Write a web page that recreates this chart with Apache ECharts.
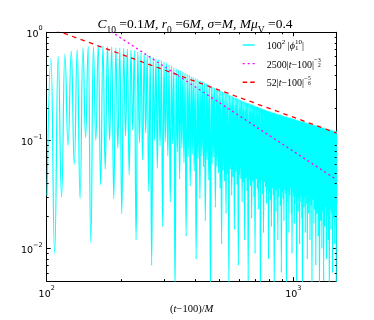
<!DOCTYPE html>
<html>
<head>
<meta charset="utf-8">
<script src="https://cdn.jsdelivr.net/npm/echarts@6/dist/echarts.min.js"></script>
<style>
html, body { margin: 0; padding: 0; background: #fff; }
#chart { width: 374px; height: 320px; }
</style>
</head>
<body>
<div id="chart"></div>
<script>
// 100^2 |phi| : maxima and minima (x = t-100)
var peakT = [104.1,111.3,118.5,125.8,133.0,140.2,147.4,154.6,161.9,169.1,
  176.3,183.5,190.7,198.0,205.2,212.4,219.6,226.8,234.1,241.3,
  248.5,255.7,262.9,270.2,277.4,284.6,291.8,299.0,306.3,313.5,
  320.7,327.9,335.1,342.4,349.6,356.8,364.0,371.2,378.5,385.7,
  392.9,400.1,407.3,414.6,421.8,429.0,436.2,443.4,450.7,457.9,
  465.1,472.3,479.5,486.8,494.0,501.2,508.4,515.6,522.9,530.1,
  537.3,544.5,551.7,559.0,566.2,573.4,580.6,587.8,595.1,602.3,
  609.5,616.7,623.9,631.2,638.4,645.6,652.8,660.0,667.3,674.5,
  681.7,688.9,696.1,703.4,710.6,717.8,725.0,732.2,739.5,746.7,
  753.9,761.1,768.3,775.6,782.8,790.0,797.2,804.4,811.7,818.9,
  826.1,833.3,840.5,847.8,855.0,862.2,869.4,876.6,883.9,891.1,
  898.3,905.5,912.7,920.0,927.2,934.4,941.6,948.8,956.1,963.3,
  970.5,977.7,984.9,992.2,999.4,1006.6,1013.8,1021.0,1028.3,1035.5,
  1042.7,1049.9,1057.1,1064.4,1071.6,1078.8,1086.0,1093.2,1100.5,1107.7,
  1114.9,1122.1,1129.3,1136.6,1143.8,1151.0,1158.2,1165.4,1172.7,1179.9,
  1187.1,1194.3,1201.5,1208.8,1216.0,1223.2,1230.4,1237.6,1244.9,1252.1,
  1259.3,1266.5,1273.7,1281.0,1288.2,1295.4,1302.6,1309.8,1317.1,1324.3,
  1331.5,1338.7,1345.9,1353.2,1360.4,1367.6,1374.8,1382.0,1389.3,1396.5,
  1403.7,1410.9,1418.1,1425.4,1432.6,1439.8,1447.0,1454.2,1461.5,1468.7,
  1475.9,1483.1,1490.3,1497.6];
var peakV = [0.57,0.60,0.63,0.67,0.69,0.72,0.74,0.74,0.75,0.75,
  0.74,0.73,0.72,0.72,0.71,0.70,0.69,0.68,0.66,0.65,
  0.63,0.62,0.60,0.59,0.57,0.56,0.55,0.53,0.52,0.50,
  0.49,0.47,0.46,0.45,0.44,0.43,0.42,0.41,0.40,0.39,
  0.385,0.375,0.37,0.36,0.355,0.35,0.34,0.335,0.33,0.32,
  0.315,0.31,0.305,0.30,0.295,0.29,0.287,0.283,0.279,0.275,
  0.271,0.267,0.263,0.259,0.256,0.252,0.249,0.246,0.243,0.240,
  0.237,0.234,0.231,0.228,0.226,0.224,0.222,0.220,0.218,0.216,
  0.214,0.212,0.210,0.208,0.206,0.204,0.202,0.200,0.199,0.197,
  0.195,0.194,0.192,0.191,0.189,0.188,0.187,0.186,0.184,0.183,
  0.182,0.181,0.180,0.178,0.177,0.176,0.175,0.174,0.173,0.172,
  0.171,0.170,0.169,0.168,0.167,0.166,0.165,0.164,0.163,0.162,
  0.162,0.161,0.160,0.159,0.158,0.158,0.157,0.156,0.155,0.155,
  0.154,0.153,0.152,0.152,0.151,0.150,0.150,0.149,0.148,0.148,
  0.147,0.146,0.146,0.145,0.144,0.144,0.143,0.143,0.142,0.141,
  0.141,0.140,0.140,0.139,0.139,0.138,0.137,0.137,0.136,0.136,
  0.135,0.135,0.134,0.134,0.133,0.133,0.132,0.132,0.131,0.131,
  0.130,0.130,0.129,0.129,0.128,0.128,0.128,0.127,0.127,0.126,
  0.126,0.125,0.125,0.125,0.124,0.124,0.123,0.123,0.123,0.122,
  0.122,0.122,0.121,0.121];
// minima: first one is the start of the curve, then one after each peak
var dipT = [100.4,
  107.7,114.9,122.1,129.4,136.6,143.8,151.0,158.2,165.5,172.7,
  179.9,187.1,194.3,201.6,208.8,216.0,223.2,230.4,237.7,244.9,
  252.1,259.3,266.5,273.8,281.0,288.2,295.4,302.6,309.9,317.1,
  324.3,331.5,338.7,346.0,353.2,360.4,367.6,374.8,382.1,389.3,
  396.5,403.7,410.9,418.2,425.4,432.6,439.8,447.0,454.3,461.5,
  468.7,475.9,483.1,490.4,497.6,504.8,512.0,519.2,526.5,533.7,
  540.9,548.1,555.3,562.6,569.8,577.0,584.2,591.4,598.7,605.9,
  613.1,620.3,627.5,634.8,642.0,649.2,656.4,663.6,670.9,678.1,
  685.3,692.5,699.7,707.0,714.2,721.4,728.6,735.8,743.1,750.3,
  757.5,764.7,771.9,779.2,786.4,793.6,800.8,808.0,815.3,822.5,
  829.7,836.9,844.1,851.4,858.6,865.8,873.0,880.2,887.5,894.7,
  901.9,909.1,916.3,923.6,930.8,938.0,945.2,952.4,959.7,966.9,
  974.1,981.3,988.5,995.8,1003.0,1010.2,1017.4,1024.6,1031.9,1039.1,
  1046.3,1053.5,1060.7,1068.0,1075.2,1082.4,1089.6,1096.8,1104.1,1111.3,
  1118.5,1125.7,1132.9,1140.2,1147.4,1154.6,1161.8,1169.0,1176.3,1183.5,
  1190.7,1197.9,1205.1,1212.4,1219.6,1226.8,1234.0,1241.2,1248.5,1255.7,
  1262.9,1270.1,1277.3,1284.6,1291.8,1299.0,1306.2,1313.4,1320.7,1327.9,
  1335.1,1342.3,1349.5,1356.8,1364.0,1371.2,1378.4,1385.6,1392.9,1400.1,
  1407.3,1414.5,1421.7,1429.0,1436.2,1443.4,1450.6,1457.8,1465.1,1472.3,
  1479.5,1486.7,1493.9,1501.2];
var dipV = [0.031,
  0.009,0.030,0.090,0.060,0.029,0.106,0.0113,0.10,0.039,0.054,0.10,0.029,
  0.085,0.021,0.11,0.048,0.125,0.012,0.095,0.066,0.118,0.034,0.007,
  0.1,0.055,0.089,0.016,0.097,0.072,0.027,0.093,0.004,0.078,0.044,0.085,
  0.062,0.013,0.071,0.038,0.074,0.052,0.008,0.068,0.029,0.072,
  0.057,0.018,0.066,0.043,0.0035,0.061,0.07,0.024,0.058,
  0.05,0.036,0.011,0.053,0.042,0.021,0.049,0.0045,0.054,0.031,
  0.046,0.015,0.051,0.039,0.007,0.048,
  0.044,0.027,0.041,0.012,0.045,0.034,0.005,0.043,0.038,0.019,
  0.042,0.03,0.009,0.044,0.036,0.023,0.04,0.0035,0.043,0.032,
  0.014,0.041,0.037,0.026,
  0.035,0.008,0.033,0.028,0.016,0.036,0.031,0.004,0.034,0.022,
  0.035,0.012,0.03,0.036,0.025,0.006,0.033,0.029,0.018,0.035,
  0.032,0.0035,0.027,0.034,0.014,0.031,0.036,0.021,0.009,0.033,0.03,
  0.017,0.031,0.026,0.005,0.029,0.022,0.03,0.011,0.027,0.031,
  0.019,0.0035,0.028,0.024,0.03,0.014,0.026,0.031,0.008,0.029,
  0.021,0.027,0.012,0.03,0.025,0.0045,0.028,0.031,0.017,0.023,0.029,
  0.007,0.026,0.021,0.027,0.013,0.024,0.0035,0.027,0.018,0.025,
  0.01,0.026,0.022,0.005,0.027,0.016,0.024,0.027,0.008,0.02,
  0.026,0.012,0.025,0.0035,0.023,0.027,0.015,0.021,0.026,0.006,
  0.024,0.019,0.027,0.011,0.025,0.022,0.0045,0.026];

// guide lines, straight on log-log axes: end points
var magT = [150, 1500];
var magV = [1.361, 0.0433];
var redT = [100, 1500];
var redV = [1.12, 0.117];

// minor tick positions
var xMinor = [200, 300, 400, 500, 600, 700, 800, 900];
var yMinor = [0.006, 0.007, 0.008, 0.009,
  0.02, 0.03, 0.04, 0.05, 0.06, 0.07, 0.08, 0.09,
  0.2, 0.3, 0.4, 0.5, 0.6, 0.7, 0.8, 0.9];

var wave = [];
for (var i = 0; i < peakT.length; i++) {
  wave.push([dipT[i], dipV[i]]);
  wave.push([peakT[i], peakV[i]]);
}
wave.push([dipT[peakT.length], dipV[peakT.length]]);

function pairs(a, b) {
  return a.map(function (v, k) { return [v, b[k]]; });
}

var SERIF = 'Liberation Serif, DejaVu Serif, serif';
var SANS = 'DejaVu Sans, sans-serif';

function powLabel(v) {
  var e = Math.log(v) / Math.LN10;
  var r = Math.round(e);
  if (Math.abs(e - r) > 1e-6) return '';
  return '{b|10}{s|' + (r < 0 ? '\u2212' + (-r) : r) + '}';
}
var labelRich = {
  b: { fontFamily: SANS, fontSize: 9.5, color: '#000', verticalAlign: 'bottom', lineHeight: 14 },
  s: { fontFamily: SANS, fontSize: 6.5, color: '#000', verticalAlign: 'top' }
};

function tickSeries(vals, isX) {
  return {
    type: 'custom', silent: true, clip: false, z: 10,
    data: vals.map(function (v) { return isX ? [v, 0.1] : [200, v]; }),
    renderItem: function (params, api) {
      var cs = params.coordSys;
      var p = api.coord([api.value(0), api.value(1)]);
      var st = { stroke: '#000', lineWidth: 1 };
      if (isX) {
        var x = Math.round(p[0]) + 0.5;
        return { type: 'group', children: [
          { type: 'line', shape: { x1: x, y1: cs.y + cs.height, x2: x, y2: cs.y + cs.height - 2 }, style: st },
          { type: 'line', shape: { x1: x, y1: cs.y, x2: x, y2: cs.y + 2 }, style: st }
        ] };
      }
      var y = Math.round(p[1]) + 0.5;
      return { type: 'group', children: [
        { type: 'line', shape: { x1: cs.x, y1: y, x2: cs.x + 2, y2: y }, style: st },
        { type: 'line', shape: { x1: cs.x + cs.width, y1: y, x2: cs.x + cs.width - 2, y2: y }, style: st }
      ] };
    }
  };
}

function logAxis(pos, lo, hi, showLabel) {
  return {
    type: 'log', logBase: 10, min: lo, max: hi, position: pos,
    axisLine: { show: true, onZero: false, lineStyle: { color: '#000', width: 1 } },
    axisTick: { show: true, inside: true, length: 4, lineStyle: { color: '#000', width: 1 } },
    axisLabel: { show: showLabel, formatter: powLabel, margin: 4, rich: labelRich },
    splitLine: { show: false }
  };
}

var legendText = {
  phi: '{r|100}{sp|2}{r| |}{i|\u03d5}{sbz|1}{sp|10}{r||}',
  mag: '{r|2500|}{i|t}{r|\u2212100|}{sp|\u2212}{num|3}{den|2}',
  red: '{r|52|}{i|t}{r|\u2212100|}{sp|\u2212}{num|5}{den|6}'
};

var xBottom = logAxis('bottom', 100, 1500, true);
xBottom.name = '{r|(}{i|t}{r|\u2212100)/}{i|M}';
xBottom.nameLocation = 'middle';
xBottom.nameGap = 17;
xBottom.nameTextStyle = { rich: {
  r: { fontFamily: SERIF, fontSize: 10.5, color: '#000' },
  i: { fontFamily: SERIF, fontSize: 10.5, fontStyle: 'italic', color: '#000' }
} };

var chart = echarts.init(document.getElementById('chart'), null, { renderer: 'canvas' });
chart.setOption({
  backgroundColor: '#fff',
  animation: false,
  title: {
    text: '{i|C}{sb|10}{r| =0.1}{i|M}{r|, }{i|r}{sb|0}{r| =6}{i|M}{r|, }{i|\u03c3}{r|=}{i|M}{r|, }{i|M\u03bc}{sb|V}{r| =0.4}',
    left: 190, top: 9, textAlign: 'center',
    textStyle: { fontWeight: 'normal', rich: {
      r: { fontFamily: SERIF, fontSize: 13.5, color: '#000', verticalAlign: 'middle', lineHeight: 21 },
      i: { fontFamily: SERIF, fontSize: 13.5, fontStyle: 'italic', color: '#000', verticalAlign: 'middle', lineHeight: 21 },
      sb: { fontFamily: SERIF, fontSize: 9.5, color: '#000', verticalAlign: 'bottom' }
    } }
  },
  grid: { left: 46.7, top: 32.3, right: 37.3, bottom: 33.3, containLabel: false },
  xAxis: [xBottom, logAxis('top', 100, 1500, false)],
  yAxis: [logAxis('left', 0.005, 1, true), logAxis('right', 0.005, 1, false)],
  legend: {
    orient: 'vertical', left: 242.7, top: 38.5, padding: 0,
    itemWidth: 12, itemHeight: 1.4, itemGap: 5.6,
    data: [
      { name: 'phi', icon: 'path://M0,0h12v1.4h-12z' },
      { name: 'mag', icon: 'path://M0,0h2v1.4h-2zM5,0h2v1.4h-2zM10,0h2v1.4h-2z' },
      { name: 'red', icon: 'path://M0,0h4.5v1.4h-4.5zM7.5,0h4.5v1.4h-4.5z' }
    ],
    formatter: function (n) { return legendText[n]; },
    textStyle: { padding: [0, 0, 0, 7], rich: {
      r: { fontFamily: SERIF, fontSize: 10, color: '#000', verticalAlign: 'bottom', lineHeight: 13 },
      i: { fontFamily: SERIF, fontSize: 10, fontStyle: 'italic', color: '#000', verticalAlign: 'bottom', lineHeight: 13 },
      sp: { fontFamily: SERIF, fontSize: 7, color: '#000', verticalAlign: 'top' },
      sbz: { fontFamily: SERIF, fontSize: 7, color: '#000', verticalAlign: 'bottom', width: 0 },
      num: { fontFamily: SERIF, fontSize: 5.5, color: '#000', verticalAlign: 'top', width: 0 },
      den: { fontFamily: SERIF, fontSize: 5.5, color: '#000', verticalAlign: 'top', padding: [5, 0, 0, 0] }
    } }
  },
  series: [
    {
      name: 'phi', type: 'line', data: wave, symbol: 'none', silent: true, z: 2,
      smooth: 0.5, smoothMonotone: 'x',
      lineStyle: { color: '#00ffff', width: 1.2 }, itemStyle: { color: '#00ffff' }
    },
    {
      name: 'mag', type: 'line', data: pairs(magT, magV), symbol: 'none', silent: true, z: 3,
      lineStyle: { color: '#ff00ff', width: 1.3, type: [2, 3] }, itemStyle: { color: '#ff00ff' }
    },
    {
      name: 'red', type: 'line', data: pairs(redT, redV), symbol: 'none', silent: true, z: 4,
      lineStyle: { color: '#ff0000', width: 1.3, type: [4.5, 4.5] }, itemStyle: { color: '#ff0000' }
    },
    tickSeries(xMinor, true),
    tickSeries(yMinor, false)
  ]
});
</script>
</body>
</html>
